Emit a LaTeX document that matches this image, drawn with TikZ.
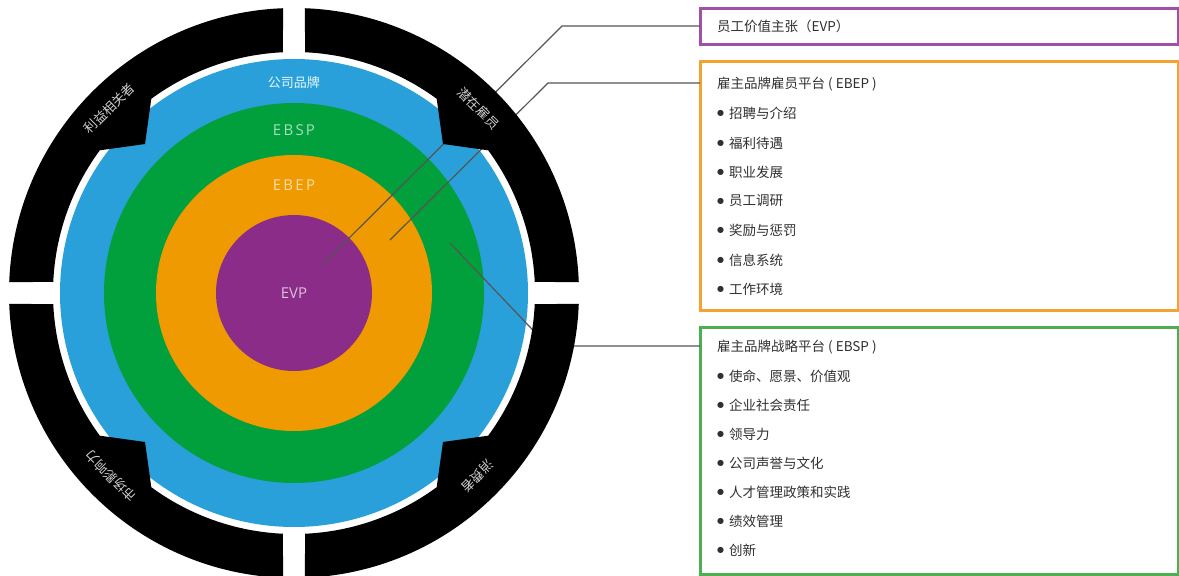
\documentclass[tikz,border=0pt]{standalone}
\usepackage{fontspec}
\setmainfont{Open Sans}
\newfontfamily\cjk{Noto Sans CJK SC}
\newfontfamily\latsp[LetterSpace=15]{Open Sans}
\newfontfamily\dejasym{DejaVu Sans}
\definecolor{cblue}{HTML}{29A0DA}
\definecolor{cgreen}{HTML}{02A03C}
\definecolor{corange}{HTML}{EE9A00}
\definecolor{cpurple}{HTML}{8A2C88}
\definecolor{bpurple}{HTML}{A050A8}
\definecolor{borange}{HTML}{F5A330}
\definecolor{bgreen}{HTML}{4CB050}
\definecolor{ctext}{HTML}{303030}
\definecolor{cline}{HTML}{555555}
\newcommand\bul{\raisebox{2.2pt}{\dejasym\fontsize{8}{8}\selectfont ●}\hspace{5pt}}
\begin{document}
\begin{tikzpicture}[x=1pt,y=1pt,
  ringlbl/.style={inner sep=0, font=\latsp\fontsize{15}{15}\selectfont},
  ringtxt/.style={inner sep=0, text=black!18, font=\cjk\fontsize{13}{13}\selectfont},
  infobox/.style={draw, line width=3pt, outer sep=0, inner sep=0, anchor=north west, minimum width=478pt, fill=white},
  btxt/.style={anchor=west, inner sep=0, text=ctext, font=\cjk\fontsize{13.5}{16}\selectfont},
  conn/.style={draw=cline, line width=1.2pt}]
\useasboundingbox (-294,-283) rectangle (885,293);
% circles
\fill[cblue] (0,0) circle (234pt);
\fill[cgreen] (0,0) circle (190pt);
\fill[corange] (0,0) circle (138pt);
\fill[cpurple] (0,0) circle (78pt);
\node[ringlbl, text=white!90!cblue, font=\cjk\fontsize{13}{13}\selectfont] (lcb) at (0,210) {公司品牌};
\node[ringlbl, text=white!65!cgreen] (lebsp) at (0,163) {EBSP};
\node[ringlbl, text=white!65!corange] (lebep) at (0,108) {EBEP};
\node[ringlbl, text=white!70!cpurple, font=\fontspec{Open Sans}\fontsize{15}{15}\selectfont] (levp) at (0,0) {EVP};
% boxes
\node[infobox, draw=bpurple, minimum height=36pt] (b1) at (406,284.5) {};
\node[infobox, draw=borange, minimum height=248pt] (b2) at (406,231) {};
\node[infobox, draw=bgreen, minimum height=247pt] (b3) at (406,-34) {};
\node[btxt] (h1) at (423,267) {员工价值主张（EVP）};
\node[btxt] (h2) at (423,209) {雇主品牌雇员平台 ( EBEP )};
\node[btxt] (e1) at (423,180) {\bul 招聘与介绍};
\node[btxt] (e2) at (423,150) {\bul 福利待遇};
\node[btxt] (e3) at (423,121) {\bul 职业发展};
\node[btxt] (e4) at (423,92) {\bul 员工调研};
\node[btxt] (e5) at (423,63) {\bul 奖励与惩罚};
\node[btxt] (e6) at (423,33) {\bul 信息系统};
\node[btxt] (e7) at (423,4) {\bul 工作环境};
\node[btxt] (h3) at (423,-54) {雇主品牌战略平台 ( EBSP )};
\node[btxt] (s1) at (423,-83) {\bul 使命、愿景、价值观};
\node[btxt] (s2) at (423,-112) {\bul 企业社会责任};
\node[btxt] (s3) at (423,-141) {\bul 领导力};
\node[btxt] (s4) at (423,-170) {\bul 公司声誉与文化};
\node[btxt] (s5) at (423,-199) {\bul 人才管理政策和实践};
\node[btxt] (s6) at (423,-228) {\bul 绩效管理};
\node[btxt] (s7) at (423,-257) {\bul 创新};
% connectors
\coordinate (p1) at (29,29); \coordinate (k1) at (268,267);
\coordinate (p2) at (96,53); \coordinate (k2) at (254,210);
\coordinate (p3) at (156,50); \coordinate (k3) at (254,-53);
\draw[conn] (p1) -- (k1) -- (k1 -| b1.west);
\draw[conn] (p2) -- (k2) -- (k2 -| b2.west);
\draw[conn] (p3) -- (k3) -- (k3 -| b3.west);
% black ring quadrants
\foreach \r in {0,90,180,270} {
  \begin{scope}[rotate=\r]
  \fill[black] (87.79:285pt) arc[start angle=87.79, end angle=2.21, radius=285pt]
    -- (2.62:241pt) arc[start angle=2.62, end angle=36.3, radius=241pt]
    -- (45:210.7pt) -- (53.7:241pt)
    arc[start angle=53.7, end angle=87.38, radius=241pt] -- cycle;
  \end{scope}
}
\node[ringtxt, rotate=-45] (t1) at (45:261pt) {潜在雇员};
\node[ringtxt, rotate=45] (t2) at (135:261pt) {利益相关者};
\node[ringtxt, rotate=135] (t3) at (225:259pt) {市场影响力};
\node[ringtxt, rotate=225] (t4) at (315:259pt) {消费者};
\end{tikzpicture}
\end{document}
